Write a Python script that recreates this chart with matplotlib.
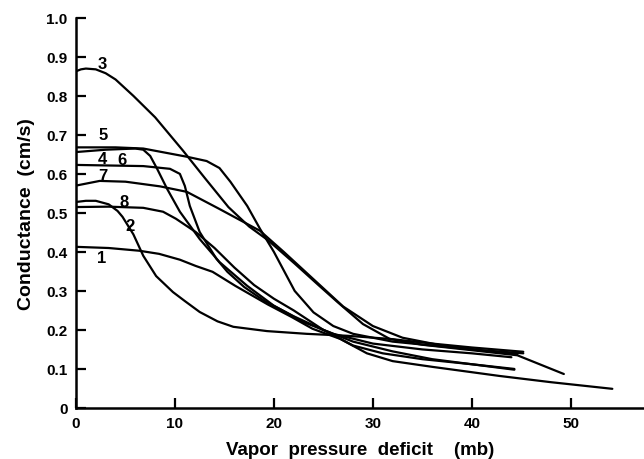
import matplotlib
matplotlib.use("Agg")
import matplotlib.pyplot as plt

plt.rcParams['font.family'] = ['Liberation Sans', 'DejaVu Sans']

# Curve data: (vapor pressure deficit mb, conductance cm/s)
c1_x = [0, 3.3, 6.4, 8.4, 10.5, 12.1, 13.8, 16.1, 19.4, 21.8, 23.9, 26.7, 29.4, 32, 36.1, 42.8, 48, 54.2]
c1_y = [0.413, 0.41, 0.403, 0.395, 0.38, 0.364, 0.349, 0.313, 0.265, 0.233, 0.203, 0.177, 0.14, 0.12, 0.105, 0.082, 0.066, 0.049]

c2_x = [0, 1, 2, 3.3, 4.2, 4.7, 5.8, 6.8, 8.1, 9.8, 11, 12.5, 14.3, 15.9, 19.3, 23.3, 27.4, 31.7, 36, 40, 45.2]
c2_y = [0.528, 0.531, 0.531, 0.522, 0.505, 0.49, 0.445, 0.39, 0.338, 0.297, 0.274, 0.246, 0.222, 0.208, 0.197, 0.19, 0.185, 0.177, 0.165, 0.155, 0.144]

c3_x = [0, 0.5, 1, 2, 3, 4, 5.8, 8, 10.8, 13, 15.4, 17.5, 19.4, 22.1, 24.5, 26.4, 29, 31.7, 35, 40, 44.6, 49.3]
c3_y = [0.863, 0.868, 0.87, 0.868, 0.858, 0.842, 0.80, 0.745, 0.66, 0.59, 0.515, 0.465, 0.43, 0.37, 0.315, 0.272, 0.215, 0.177, 0.162, 0.148, 0.135, 0.087]

c4_x = [0, 3, 6, 6.8, 7.5, 8.2, 9.2, 10.5, 12.5, 14.5, 17.3, 20, 23, 26, 30, 35, 40, 44]
c4_y = [0.656, 0.662, 0.665, 0.662, 0.646, 0.613, 0.562, 0.503, 0.433, 0.374, 0.313, 0.262, 0.22, 0.19, 0.165, 0.15, 0.14, 0.13]

c5_x = [0, 4, 6.8, 11.2, 13.2, 14.5, 15.6, 17.3, 18.6, 20, 22.1, 24, 26, 28, 32, 36, 40, 44.6]
c5_y = [0.668, 0.668, 0.665, 0.644, 0.633, 0.615, 0.58, 0.518, 0.459, 0.40, 0.30, 0.245, 0.21, 0.19, 0.17, 0.16, 0.15, 0.138]

c6_x = [0, 6.8, 9.5, 10.5, 11, 11.5, 12.5, 14.2, 15.3, 17, 19, 22, 25, 28, 32, 36, 40, 44.3]
c6_y = [0.623, 0.62, 0.613, 0.6, 0.569, 0.518, 0.451, 0.382, 0.349, 0.31, 0.275, 0.235, 0.2, 0.17, 0.145, 0.125, 0.112, 0.10]

c7_x = [0, 2.4, 5, 8.5, 11.2, 14.5, 18.6, 21, 24, 27, 30, 33, 37, 41, 45.2]
c7_y = [0.57, 0.582, 0.58, 0.568, 0.554, 0.51, 0.454, 0.40, 0.33, 0.26, 0.21, 0.18, 0.16, 0.148, 0.14]

c8_x = [0, 3.3, 6.8, 8.8, 10.1, 12.1, 14, 16, 18, 20, 22, 25, 28, 31, 35, 40, 44.3]
c8_y = [0.515, 0.516, 0.513, 0.503, 0.485, 0.451, 0.41, 0.36, 0.315, 0.28, 0.25, 0.2, 0.16, 0.14, 0.125, 0.112, 0.098]

curves = [(c1_x, c1_y), (c2_x, c2_y), (c3_x, c3_y), (c4_x, c4_y),
          (c5_x, c5_y), (c6_x, c6_y), (c7_x, c7_y), (c8_x, c8_y)]

label_text = ['1', '2', '3', '4', '5', '6', '7', '8']
label_x = [2.6, 5.5, 2.7, 2.7, 2.7, 4.6, 2.7, 4.9]
label_y = [0.385, 0.467, 0.882, 0.64, 0.70, 0.638, 0.595, 0.53]

x_ticks = [0, 10, 20, 30, 40, 50]
y_ticks = [0, 0.1, 0.2, 0.3, 0.4, 0.5, 0.6, 0.7, 0.8, 0.9, 1.0]
y_tick_labels = ['0', '0.1', '0.2', '0.3', '0.4', '0.5', '0.6', '0.7', '0.8', '0.9', '1.0']

fig = plt.figure(figsize=(6.44, 4.60), dpi=100)
ax = fig.add_axes([0.118, 0.111, 0.882, 0.848])

for xs, ys in curves:
    ax.plot(xs, ys, color='black', lw=1.6, solid_capstyle='round', solid_joinstyle='round')

for t, x, y in zip(label_text, label_x, label_y):
    ax.text(x, y, t, fontsize=12, fontweight='bold', ha='center', va='center')

ax.set_xlim(0, 57.4)
ax.set_ylim(0, 1.0)
ax.set_xticks(x_ticks)
ax.set_xticklabels([str(v) for v in x_ticks])
ax.set_yticks(y_ticks)
ax.set_yticklabels(y_tick_labels)
ax.tick_params(direction='in', length=7, width=1.6, color='black', labelsize=11, pad=6)
for lbl in ax.get_xticklabels() + ax.get_yticklabels():
    lbl.set_fontweight('bold')

ax.spines['top'].set_visible(False)
ax.spines['right'].set_visible(False)
ax.spines['left'].set_linewidth(1.8)
ax.spines['bottom'].set_linewidth(1.8)

ax.set_xlabel('Vapor  pressure  deficit    (mb)', fontsize=13.5, fontweight='bold', labelpad=8)
ax.set_ylabel('Conductance  (cm/s)', fontsize=14, fontweight='bold', labelpad=8)

fig.savefig('out.png', dpi=100)
